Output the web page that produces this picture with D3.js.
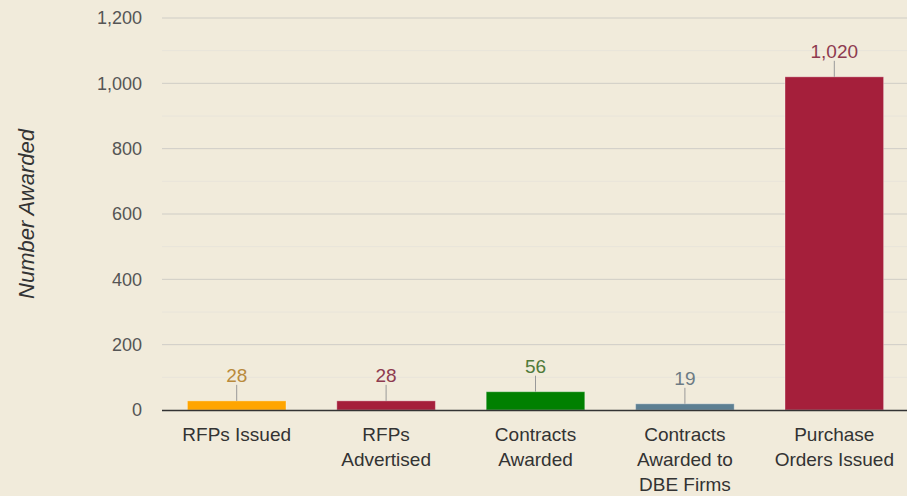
<!DOCTYPE html>
<html>
<head>
<meta charset="utf-8">
<script src="https://cdn.jsdelivr.net/npm/d3@7"></script>
<style>
  body { margin: 0; background: #f1ebdb; }
  svg { display: block; font-family: "Liberation Sans", Arial, sans-serif; }
</style>
</head>
<body>
<div id="chart"></div>
<script>
var categories = ["RFPs Issued", "RFPs Advertised", "Contracts Awarded", "Contracts Awarded to DBE Firms", "Purchase Orders Issued"];
var catLines = [["RFPs Issued"], ["RFPs", "Advertised"], ["Contracts", "Awarded"], ["Contracts", "Awarded to", "DBE Firms"], ["Purchase", "Orders Issued"]];
var values = [28, 28, 56, 19, 1020];
var barColors = ["#ffa500", "#a51f3b", "#008000", "#5d7f92", "#a51f3b"];
var labelColors = ["#b98a3c", "#8e3a4f", "#4f7a3a", "#6d7b84", "#8e3a4f"];
var yTicks = [0, 200, 400, 600, 800, 1000, 1200];
var yMinor = [100, 300, 500, 700, 900, 1100];

var W = 907, H = 496;
var margin = { top: 18, right: -2, bottom: 86, left: 162 };

var svg = d3.select("#chart").append("svg")
  .attr("width", W).attr("height", H);

var x = d3.scaleBand()
  .domain(categories)
  .range([margin.left, W - margin.right])
  .paddingInner(0.34)
  .paddingOuter(0.17);

var y = d3.scaleLinear()
  .domain([0, 1200])
  .range([H - margin.bottom, margin.top]);

// minor grid
svg.append("g").selectAll("line")
  .data(yMinor).enter().append("line")
  .attr("x1", margin.left).attr("x2", W)
  .attr("y1", d => y(d)).attr("y2", d => y(d))
  .attr("stroke", "#e8e4da").attr("stroke-width", 1);

// major grid
svg.append("g").selectAll("line")
  .data(yTicks.slice(1)).enter().append("line")
  .attr("x1", margin.left).attr("x2", W)
  .attr("y1", d => y(d)).attr("y2", d => y(d))
  .attr("stroke", "#cfcdc6").attr("stroke-width", 1);

// y tick labels
svg.append("g").selectAll("text")
  .data(yTicks).enter().append("text")
  .attr("x", 142)
  .attr("y", d => y(d))
  .attr("dy", "0.35em")
  .attr("text-anchor", "end")
  .attr("font-size", 18)
  .attr("fill", "#555")
  .text(d => d3.format(",")(d));

// y title
svg.append("text")
  .attr("transform", "translate(34," + ((y(0) + y(1200)) / 2) + ") rotate(-90)")
  .attr("text-anchor", "middle")
  .attr("font-size", 22)
  .attr("font-style", "italic")
  .attr("fill", "#333")
  .text("Number Awarded");

// bars
svg.append("g").selectAll("rect")
  .data(values).enter().append("rect")
  .attr("x", (d, i) => x(categories[i]))
  .attr("y", d => y(d))
  .attr("width", x.bandwidth())
  .attr("height", d => y(0) - y(d))
  .attr("fill", (d, i) => barColors[i])
  .attr("stroke", "rgba(255,255,255,0.35)")
  .attr("stroke-width", 1);

// leader lines
svg.append("g").selectAll("line")
  .data(values).enter().append("line")
  .attr("x1", (d, i) => x(categories[i]) + x.bandwidth() / 2)
  .attr("x2", (d, i) => x(categories[i]) + x.bandwidth() / 2)
  .attr("y1", d => y(d) - 16)
  .attr("y2", d => y(d))
  .attr("stroke", "#999").attr("stroke-width", 1);

// value labels
svg.append("g").selectAll("text")
  .data(values).enter().append("text")
  .attr("x", (d, i) => x(categories[i]) + x.bandwidth() / 2)
  .attr("y", d => y(d) - 19)
  .attr("text-anchor", "middle")
  .attr("font-size", 19)
  .attr("fill", (d, i) => labelColors[i])
  .text(d => d3.format(",")(d));

// x axis line
svg.append("line")
  .attr("x1", margin.left).attr("x2", W)
  .attr("y1", y(0) + 0.5).attr("y2", y(0) + 0.5)
  .attr("stroke", "#333").attr("stroke-width", 1.3);

// category labels
var cat = svg.append("g").selectAll("text")
  .data(catLines).enter().append("text")
  .attr("x", (d, i) => x(categories[i]) + x.bandwidth() / 2)
  .attr("y", 441)
  .attr("text-anchor", "middle")
  .attr("font-size", 19)
  .attr("fill", "#333");
cat.selectAll("tspan")
  .data(d => d).enter().append("tspan")
  .attr("x", function () { return d3.select(this.parentNode).attr("x"); })
  .attr("dy", (d, i) => i === 0 ? 0 : 25)
  .text(d => d);
</script>
</body>
</html>
